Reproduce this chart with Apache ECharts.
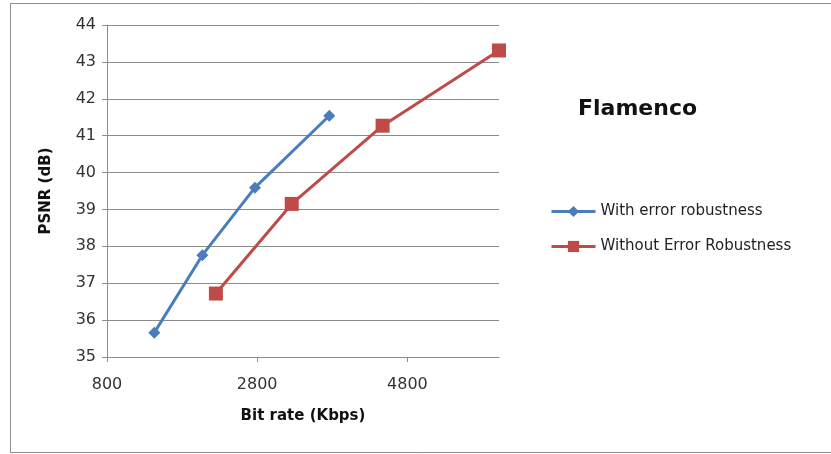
<!DOCTYPE html>
<html>
<head>
<meta charset="utf-8">
<script src="https://cdn.jsdelivr.net/npm/echarts@6/dist/echarts.min.js"></script>
<style>
  html, body { margin: 0; padding: 0; background: #fff; }
  #chart { width: 831px; height: 454px; }
</style>
</head>
<body>
<div id="chart"></div>
<script>
// Rate–distortion points: bit rate (Kbps) and PSNR (dB)
const chartTitle = 'Flamenco';
const seriesNames = ['With error robustness', 'Without Error Robustness'];
const withRate = [1430, 2070, 2770, 3760];
const withPsnr = [35.66, 37.76, 39.59, 41.54];
const withoutRate = [2250, 3260, 4470, 6020];
const withoutPsnr = [36.72, 39.15, 41.27, 43.31];
const xTicks = { min: 800, max: 6020, step: 2000 };
const yTicks = { min: 35, max: 44, step: 1 };

const pairs = (xs, ys) => xs.map((x, i) => [x, ys[i]]);
const font = '"DejaVu Sans", sans-serif';

const chart = echarts.init(document.getElementById('chart'));
chart.setOption({
  animation: false,
  backgroundColor: '#fff',
  graphic: [{
    type: 'rect',
    shape: { x: 10.5, y: 3.5, width: 860, height: 449 },
    style: { fill: 'none', stroke: '#8c8c8c', lineWidth: 1 },
    silent: true
  }],
  title: {
    text: chartTitle,
    left: 573, top: 93,
    textStyle: { fontFamily: font, fontSize: 22, fontWeight: 'bold', color: '#111' }
  },
  legend: {
    orient: 'vertical',
    left: 545, top: 199,
    itemWidth: 44, itemHeight: 14, itemGap: 20,
    lineStyle: { width: 3 },
    textStyle: { fontFamily: font, fontSize: 15, color: '#222' },
    data: seriesNames
  },
  grid: { left: 107, right: 332, top: 25, bottom: 97, containLabel: false },
  xAxis: {
    type: 'value',
    min: xTicks.min, max: xTicks.max, interval: xTicks.step,
    name: 'Bit rate (Kbps)', nameLocation: 'middle', nameGap: 52,
    nameTextStyle: { fontFamily: font, fontSize: 15, fontWeight: 'bold', color: '#111' },
    axisLine: { lineStyle: { color: '#8c8c8c', width: 1 } },
    axisTick: { show: true, length: 5, lineStyle: { color: '#8c8c8c' } },
    axisLabel: {
      showMaxLabel: false, margin: 20,
      fontFamily: font, fontSize: 16, color: '#333',
      formatter: v => String(v)
    },
    splitLine: { show: false }
  },
  yAxis: {
    type: 'value',
    min: yTicks.min, max: yTicks.max, interval: yTicks.step,
    name: 'PSNR (dB)', nameLocation: 'middle', nameGap: 53, nameRotate: 90,
    nameTextStyle: { fontFamily: font, fontSize: 15, fontWeight: 'bold', color: '#111' },
    axisLine: { show: true, lineStyle: { color: '#8c8c8c', width: 1 } },
    axisTick: { show: true, length: 5, lineStyle: { color: '#8c8c8c' } },
    axisLabel: { margin: 11, fontFamily: font, fontSize: 16, color: '#333' },
    splitLine: { show: true, lineStyle: { color: '#8c8c8c', width: 1 } }
  },
  series: [
    {
      name: seriesNames[0], type: 'line',
      data: pairs(withRate, withPsnr),
      symbol: 'diamond', symbolSize: 12,
      lineStyle: { color: '#4a7ebb', width: 3 },
      itemStyle: { color: '#4a7ebb' }
    },
    {
      name: seriesNames[1], type: 'line',
      data: pairs(withoutRate, withoutPsnr),
      symbol: 'rect', symbolSize: 14,
      lineStyle: { color: '#be4b48', width: 3 },
      itemStyle: { color: '#be4b48' }
    }
  ]
});
</script>
</body>
</html>
